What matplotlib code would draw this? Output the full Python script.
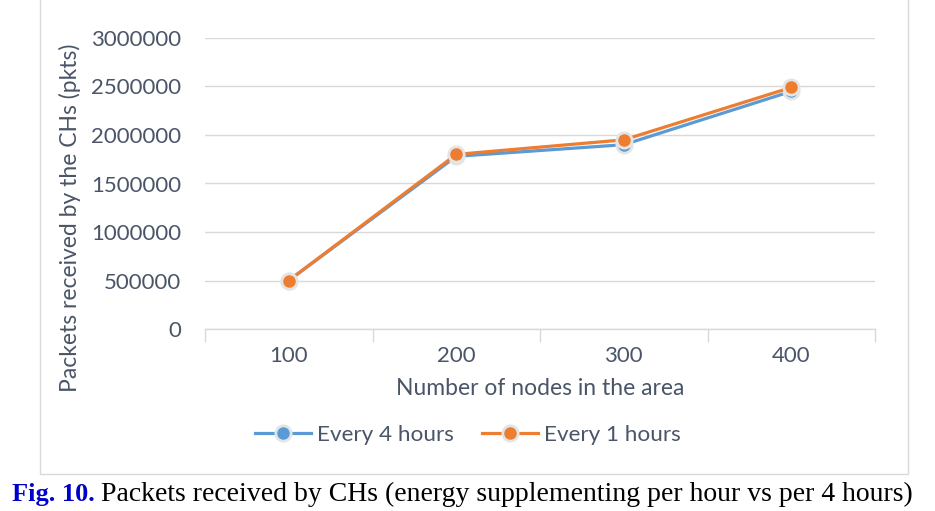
import matplotlib
matplotlib.use("Agg")
import matplotlib.pyplot as plt
from matplotlib.patches import Rectangle

categories = ["100", "200", "300", "400"]
every_4_hours = [500000, 1780000, 1900000, 2450000]
every_1_hours = [500000, 1800000, 1950000, 2490000]
y_ticks = [0, 500000, 1000000, 1500000, 2000000, 2500000, 3000000]

plt.rcParams['font.family'] = ['Lato', 'DejaVu Sans']
fig = plt.figure(figsize=(9.35, 5.11), dpi=100)
W, H = 935, 511
ax = fig.add_axes([205 / W, 1 - 329 / H, (875 - 205) / W, (329 - 38) / H])

blue = "#5b9bd5"
orange = "#ed7d31"
txt = "#4a5568"
x = list(range(len(categories)))
ax.plot(x, every_4_hours, color=blue, lw=2.3, marker='o', ms=11,
        markerfacecolor=blue, markeredgecolor="#e4e4e4", markeredgewidth=2,
        label="Every 4 hours", zorder=3)
ax.plot(x, every_1_hours, color=orange, lw=2.3, marker='o', ms=11,
        markerfacecolor=orange, markeredgecolor="#e4e4e4", markeredgewidth=2,
        label="Every 1 hours", zorder=4)

ax.set_xlim(-0.5, len(categories) - 0.5)
ax.set_ylim(0, 3000000)
ax.set_yticks(y_ticks)
ax.set_yticklabels([str(v) for v in y_ticks])
ax.set_xticks(x)
ax.set_xticklabels(categories)
ax.set_xticks([i - 0.5 for i in range(len(categories) + 1)], minor=True)
ax.tick_params(axis='x', which='major', length=0, pad=12, labelsize=16, colors=txt)
ax.tick_params(axis='x', which='minor', length=9, width=1, color="#d9d9d9")
ax.tick_params(axis='y', length=0, pad=17, labelsize=16, colors=txt)
ax.grid(axis='y', color="#d9d9d9", lw=1)
ax.set_axisbelow(True)
for s in ["top", "right", "left"]:
    ax.spines[s].set_visible(False)
ax.spines["bottom"].set_color("#d9d9d9")
ax.spines["bottom"].set_linewidth(1)

ax.set_xlabel("Number of nodes in the area", fontsize=16.5, color=txt, labelpad=9)
ax.set_ylabel("Packets received by the CHs (pkts)", fontsize=16.5, color=txt,
              va="center", ha="center")
ax.yaxis.set_label_coords((70 - 205) / 670, (329 - 218) / 291)

leg = fig.legend(loc="center", bbox_to_anchor=(468 / W, 1 - 435 / H), ncol=2,
                 frameon=False, fontsize=16.2, handlelength=2.5, columnspacing=1.25,
                 handletextpad=0.25, labelcolor=txt)

fig.patches.append(Rectangle((40 / W, 1 - 474 / H), (908 - 40) / W, 474 / H + 0.01,
                             transform=fig.transFigure, fill=False,
                             edgecolor="#d9d9d9", lw=1))

fig.text(12 / W, 1 - 494 / H, "Fig. 10.", fontsize=19, color="#0000cc",
         fontweight="bold", family="Liberation Serif", va="center")
fig.text(101 / W, 1 - 494 / H,
         "Packets received by CHs (energy supplementing per hour vs per 4 hours)",
         fontsize=20.0, color="black", family="Liberation Serif", va="center")

fig.savefig("out.png", dpi=100)
